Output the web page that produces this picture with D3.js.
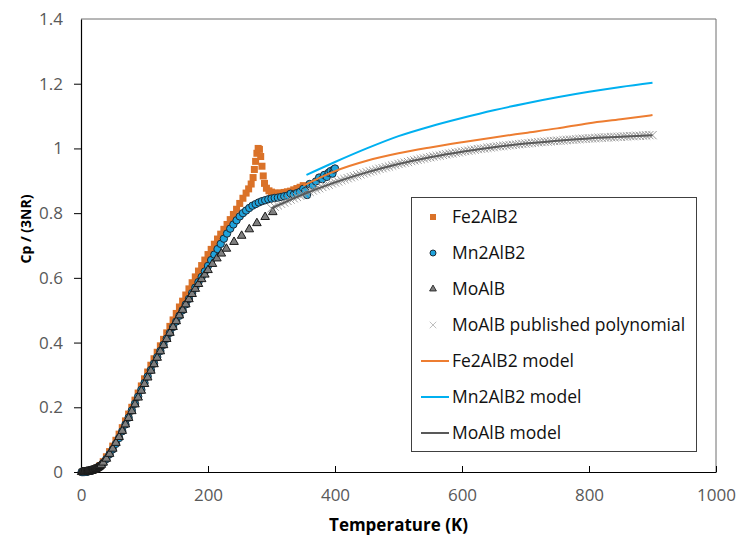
<!DOCTYPE html>
<html>
<head>
<meta charset="utf-8">
<script src="https://cdn.jsdelivr.net/npm/d3@7"></script>
<style>
  html, body { margin: 0; padding: 0; background: #fff; }
  svg { display: block; }
  text { font-family: "Open Sans", "Noto Sans", sans-serif; }
</style>
</head>
<body>
<svg id="chart" width="738" height="537"></svg>
<script>
// Measured heat capacity, Cp/(3NR), against temperature (K)
const fe2alb2 = [[2,0],[5,0.001],[10,0.002],[15,0.004],[20,0.007],[25,0.012],[30,0.02],[35,0.032],[40,0.047],[45,0.063],
  [50,0.08],[55,0.098],[60,0.117],[65,0.137],[70,0.158],[75,0.179],[80,0.2],[85,0.222],[90,0.244],[95,0.266],[100,0.288],
  [105,0.309],[110,0.33],[115,0.35],[120,0.37],[125,0.39],[130,0.41],[135,0.43],[140,0.45],[145,0.47],[150,0.49],
  [155,0.51],[160,0.528],[165,0.547],[170,0.566],[175,0.585],[180,0.603],[185,0.621],[190,0.638],[195,0.655],[200,0.672],
  [205,0.688],[210,0.704],[215,0.72],[220,0.735],[225,0.75],[230,0.765],[235,0.78],[240,0.796],[245,0.812],[250,0.83],
  [255,0.846],[260,0.862],[264,0.875],[268,0.89],[271,0.91],[273,0.935],[275,0.96],[277,0.985],[279,1.0],[281,0.997],
  [283,0.975],[285,0.945],[287,0.915],[289,0.892],[292,0.877],[296,0.869],[300,0.865],[305,0.862],[310,0.862],[315,0.862],
  [320,0.864],[325,0.866],[330,0.868],[335,0.872],[340,0.876],[345,0.88],[350,0.885]];

const mn2alb2 = [[1,0],[2,0],[3,0],[4,0],[5,0],[6,0.0005],[7,0.0005],[8,0.001],[9,0.001],[10,0.0015],[11,0.002],[12,0.0025],
  [13,0.003],[14,0.0035],[15,0.004],[16,0.004],[18,0.005],[20,0.006],[22,0.008],[25,0.011],[28,0.015],[30,0.018],
  [35,0.028],[40,0.04],[45,0.055],[50,0.07],[55,0.087],[60,0.105],[65,0.126],[70,0.147],[75,0.168],[80,0.19],[85,0.211],
  [90,0.233],[95,0.254],[100,0.275],[105,0.295],[110,0.315],[115,0.335],[120,0.355],[125,0.374],[130,0.393],[135,0.412],
  [140,0.43],[145,0.448],[150,0.465],[155,0.483],[160,0.5],[165,0.518],[170,0.535],[175,0.553],[180,0.57],[185,0.587],
  [190,0.603],[195,0.62],[200,0.637],[205,0.655],[210,0.672],[215,0.689],[220,0.705],[225,0.721],[230,0.737],[235,0.752],
  [240,0.765],[245,0.778],[250,0.79],[255,0.8],[260,0.808],[265,0.816],[270,0.823],[275,0.828],[280,0.833],[285,0.837],
  [290,0.84],[295,0.843],[300,0.845],[305,0.847],[310,0.848],[315,0.85],[320,0.852],[325,0.854],[330,0.86],[335,0.857],
  [340,0.862],[345,0.866],[350,0.875],[353,0.868],[356,0.856],[360,0.89],[365,0.885],[370,0.898],[375,0.91],[380,0.905],
  [383,0.918],[387,0.912],[390,0.925],[393,0.93],[396,0.922],[398,0.935],[400,0.938]];

const moalb = [[1,0],[2,0],[3,0],[4,0],[5,0],[6,0],[7,0],[8,0.0005],[9,0.001],[10,0.001],[11,0.0015],[12,0.002],
  [13,0.0025],[14,0.003],[15,0.0035],[16,0.004],[17,0.0045],[18,0.005],[19,0.006],[20,0.007],[21,0.0075],[22,0.008],
  [23,0.009],[24,0.0105],[25,0.012],[26,0.013],[27,0.014],[28,0.0155],[29,0.017],[30,0.0185],[32,0.022],[35,0.029],
  [40,0.041],[45,0.056],[50,0.072],[55,0.09],[60,0.108],
  [65,0.127],[70,0.147],[75,0.167],[80,0.188],[85,0.209],[90,0.23],[95,0.251],[100,0.272],[105,0.292],[110,0.313],
  [115,0.333],[120,0.353],[125,0.373],[130,0.392],[135,0.411],[140,0.43],[145,0.448],[150,0.466],[155,0.484],[160,0.501],
  [165,0.518],[170,0.534],[175,0.55],[180,0.566],[185,0.581],[190,0.596],[195,0.61],[200,0.624],[207,0.643],[214,0.66],
  [221,0.675],[229,0.69],[241,0.711],[253,0.73],[265,0.75],[277,0.769],[290,0.788],[302,0.803]];

// Published MoAlB polynomial, tabulated every 5 K from 300 K to 900 K
const polyT = d3.range(300, 901, 5);
const polyCp = [0.815,0.820,0.824,0.829,0.833,0.838,0.842,0.846,0.850,0.854,
  0.858,0.862,0.866,0.870,0.874,0.877,0.881,0.885,0.888,0.892,
  0.895,0.898,0.902,0.905,0.908,0.911,0.914,0.917,0.920,0.923,
  0.926,0.929,0.931,0.934,0.937,0.939,0.942,0.944,0.947,0.949,
  0.952,0.954,0.956,0.958,0.961,0.963,0.965,0.967,0.969,0.971,
  0.973,0.975,0.977,0.978,0.980,0.982,0.984,0.985,0.987,0.988,
  0.990,0.992,0.993,0.995,0.996,0.998,0.999,1.000,1.002,1.003,
  1.004,1.006,1.007,1.008,1.009,1.010,1.011,1.012,1.013,1.014,
  1.015,1.016,1.017,1.018,1.019,1.020,1.021,1.021,1.022,1.023,
  1.024,1.024,1.025,1.026,1.027,1.027,1.028,1.029,1.030,1.030,
  1.031,1.031,1.032,1.033,1.033,1.034,1.034,1.035,1.035,1.036,
  1.036,1.037,1.037,1.038,1.038,1.039,1.039,1.040,1.040,1.041,1.041];

// Model curves
const fe2alb2Model = [[350,0.885],[400,0.93],[450,0.962],[500,0.985],[550,1.003],[600,1.019],[650,1.034],
  [700,1.048],[750,1.062],[800,1.078],[850,1.09],[900,1.103]];
const mn2alb2Model = [[355,0.918],[400,0.958],[450,1.0],[500,1.038],[550,1.068],[600,1.094],[650,1.118],
  [700,1.139],[750,1.158],[800,1.175],[850,1.19],[900,1.203]];
const moalbModel = [[300,0.815],[350,0.858],[400,0.895],[450,0.926],[500,0.952],[550,0.973],[600,0.99],
  [650,1.004],[700,1.015],[750,1.024],[800,1.031],[850,1.036],[900,1.041]];

const xTicks = [0, 200, 400, 600, 800, 1000];
const yTicks = [0, 0.2, 0.4, 0.6, 0.8, 1, 1.2, 1.4];
const yTickLabels = ["0", "0.2", "0.4", "0.6", "0.8", "1", "1.2", "1.4"];

const legendItems = [
  {name: "Fe2AlB2", kind: "square"},
  {name: "Mn2AlB2", kind: "circle"},
  {name: "MoAlB", kind: "triangle"},
  {name: "MoAlB published polynomial", kind: "cross"},
  {name: "Fe2AlB2 model", kind: "line", color: "#ED7D31"},
  {name: "Mn2AlB2 model", kind: "line", color: "#00B0F0"},
  {name: "MoAlB model", kind: "line", color: "#595959"}
];

const W = 738, H = 537;
const margin = {top: 19, right: 22, bottom: 65, left: 81};
const svg = d3.select("#chart");

const x = d3.scaleLinear().domain([0, 1000]).range([margin.left, W - margin.right]);
const y = d3.scaleLinear().domain([0, 1.4]).range([H - margin.bottom, margin.top]);

// plot-area frame (top and right edges)
svg.append("path")
  .attr("d", `M${x(0)},${y(1.4)}H${x(1000)}V${y(0)}`)
  .attr("fill", "none").attr("stroke", "#6e6e6e").attr("stroke-width", 1);

// axes
const xAxis = d3.axisBottom(x).tickValues(xTicks).tickFormat(d3.format("d"))
  .tickSizeInner(-6).tickSizeOuter(0).tickPadding(17);
const gx = svg.append("g").attr("transform", `translate(0,${y(0)})`).call(xAxis);

const yAxis = d3.axisLeft(y).tickValues(yTicks).tickFormat((d, i) => yTickLabels[i])
  .tickSizeInner(7).tickSizeOuter(0).tickPadding(11);
const gy = svg.append("g").attr("transform", `translate(${x(0)},0)`).call(yAxis);
gy.selectAll(".tick").filter(d => d === 1.4).select("line").remove();

[gx, gy].forEach(g => {
  g.select(".domain").attr("stroke", "#000").attr("stroke-width", 1.2);
  g.selectAll(".tick line").attr("stroke", "#000");
  g.selectAll(".tick text").attr("fill", "#595959").style("font-size", "17px")
    .style("font-family", "'Open Sans', sans-serif");
});

// axis titles
svg.append("text").attr("x", (x(0) + x(1000)) / 2).attr("y", 531)
  .attr("text-anchor", "middle").style("font-size", "17px").style("font-weight", "bold")
  .attr("fill", "#000").text("Temperature (K)");
svg.append("text").attr("transform", "translate(31,229) rotate(-90)")
  .attr("text-anchor", "middle").style("font-size", "14px").style("font-weight", "bold")
  .attr("fill", "#000").text("Cp / (3NR)");

const plot = svg.append("g");

// Fe2AlB2 squares
plot.append("g").selectAll("rect").data(fe2alb2).join("rect")
  .attr("x", d => x(d[0]) - 3.5).attr("y", d => y(d[1]) - 3.5)
  .attr("width", 7).attr("height", 7).attr("fill", "#DA7229");

// Mn2AlB2 circles
plot.append("g").selectAll("circle").data(mn2alb2).join("circle")
  .attr("cx", d => x(d[0])).attr("cy", d => y(d[1])).attr("r", 3.7)
  .attr("fill", "#1FA3DC").attr("stroke", "#1b2b38").attr("stroke-width", 1);

// MoAlB triangles
const tri = d3.symbol().type(d3.symbolTriangle).size(32);
plot.append("g").selectAll("path").data(moalb).join("path")
  .attr("d", tri).attr("transform", d => `translate(${x(d[0])},${y(d[1])})`)
  .attr("fill", "#7F7F7F").attr("stroke", "#1a1a1a").attr("stroke-width", 1);

// published polynomial crosses
const cross = d3.symbol().type(d3.symbolX).size(46);
plot.append("g").selectAll("path").data(polyT.map((t, i) => [t, polyCp[i]])).join("path")
  .attr("d", cross).attr("transform", d => `translate(${x(d[0])},${y(d[1])})`)
  .attr("fill", "none").attr("stroke", "#9a9a9a").attr("stroke-width", 1);

// model lines
const line = d3.line().x(d => x(d[0])).y(d => y(d[1])).curve(d3.curveMonotoneX);
[[fe2alb2Model, "#ED7D31"], [mn2alb2Model, "#00B0F0"], [moalbModel, "#595959"]].forEach(([data, color]) => {
  plot.append("path").datum(data).attr("d", line)
    .attr("fill", "none").attr("stroke", color).attr("stroke-width", 2);
});

// legend
const lg = svg.append("g");
lg.append("rect").attr("x", 411.5).attr("y", 197.5).attr("width", 285).attr("height", 254)
  .attr("fill", "#fff").attr("stroke", "#404040").attr("stroke-width", 1);
legendItems.forEach((item, i) => {
  const cy = 217 + i * 36;
  const g = lg.append("g");
  if (item.kind === "square") {
    g.append("rect").attr("x", 430).attr("y", cy - 3).attr("width", 6).attr("height", 6).attr("fill", "#DA7229");
  } else if (item.kind === "circle") {
    g.append("circle").attr("cx", 433).attr("cy", cy).attr("r", 3)
      .attr("fill", "#1FA3DC").attr("stroke", "#1b2b38").attr("stroke-width", 1);
  } else if (item.kind === "triangle") {
    g.append("path").attr("d", d3.symbol().type(d3.symbolTriangle).size(20))
      .attr("transform", `translate(433,${cy})`)
      .attr("fill", "#7F7F7F").attr("stroke", "#222").attr("stroke-width", 0.9);
  } else if (item.kind === "cross") {
    g.append("path").attr("d", d3.symbol().type(d3.symbolX).size(30))
      .attr("transform", `translate(433,${cy})`)
      .attr("fill", "none").attr("stroke", "#BFBFBF").attr("stroke-width", 1);
  } else {
    g.append("line").attr("x1", 421).attr("x2", 449).attr("y1", cy).attr("y2", cy)
      .attr("stroke", item.color).attr("stroke-width", 2);
  }
  g.append("text").attr("x", 452).attr("y", cy).attr("dy", "0.35em")
    .style("font-size", "17.5px").attr("fill", "#111").text(item.name);
});
</script>
</body>
</html>
